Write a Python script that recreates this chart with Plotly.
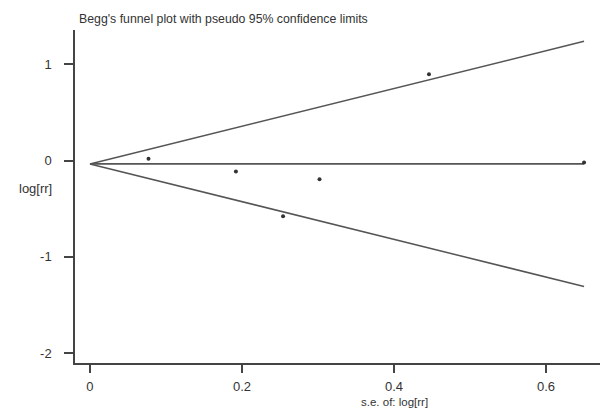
import plotly.graph_objects as go

# study data
se_values = [0.077, 0.192, 0.254, 0.302, 0.446, 0.650]
log_rr = [0.018, -0.114, -0.58, -0.193, 0.897, -0.02]

pooled = -0.035
se_max = 0.65
z = 1.96

x_ticks = [0, 0.2, 0.4, 0.6]
x_tick_labels = ["0", "0.2", "0.4", "0.6"]
y_ticks = [-2, -1, 0, 1]
y_tick_labels = ["-2", "-1", "0", "1"]

title_text = "Begg's funnel plot with pseudo 95% confidence limits"
x_title = "s.e. of: log[rr]"
y_title = "log[rr]"

line_col = "#555555"
font = "Liberation Sans, Arial, sans-serif"

fig = go.Figure()
# pseudo confidence limits
fig.add_trace(go.Scatter(x=[0, se_max], y=[pooled, pooled + z * se_max], mode="lines",
                         line=dict(color=line_col, width=1.5), showlegend=False))
fig.add_trace(go.Scatter(x=[0, se_max], y=[pooled, pooled - z * se_max], mode="lines",
                         line=dict(color=line_col, width=1.5), showlegend=False))
fig.add_trace(go.Scatter(x=[0, se_max], y=[pooled, pooled], mode="lines",
                         line=dict(color=line_col, width=1.8), showlegend=False))
fig.add_trace(go.Scatter(x=se_values, y=log_rr, mode="markers",
                         marker=dict(color="#333333", size=4), showlegend=False))

fig.update_layout(
    width=600, height=409,
    margin=dict(l=75, r=0, t=30, b=46),
    plot_bgcolor="white", paper_bgcolor="white",
    font=dict(family=font, size=13, color="#333333"),
    xaxis=dict(range=[-0.0197, 0.671], tickvals=x_ticks, ticktext=x_tick_labels,
               showgrid=False, zeroline=False, showline=True, linecolor="#444444", linewidth=1.5,
               ticks="outside", ticklen=8, tickwidth=1.5, tickcolor="#444444",
               ticklabelstandoff=3),
    yaxis=dict(range=[-2.104, 1.357], tickvals=y_ticks, ticktext=y_tick_labels,
               showgrid=False, zeroline=False, showline=True, linecolor="#444444", linewidth=1.5,
               ticks="outside", ticklen=9, tickwidth=1.5, tickcolor="#444444",
               ticklabelstandoff=10),
    annotations=[
        dict(text=title_text, xref="paper", yref="paper", x=0.003, y=1.0, yshift=2,
             xanchor="left", yanchor="bottom", showarrow=False,
             font=dict(family=font, size=12.3, color="#333333")),
        dict(text=x_title, xref="x", yref="paper", x=0.4, y=0, yshift=-31,
             xanchor="center", yanchor="top", showarrow=False,
             font=dict(family=font, size=11.5, color="#333333")),
        dict(text=y_title, xref="paper", yref="y", x=0, xshift=-21, y=-0.29,
             xanchor="right", yanchor="middle", showarrow=False,
             font=dict(family=font, size=13, color="#333333")),
    ],
)

fig.write_html("out.html", config={"displayModeBar": False},
               post_script="document.body.style.margin='0';document.body.style.overflow='hidden';")
